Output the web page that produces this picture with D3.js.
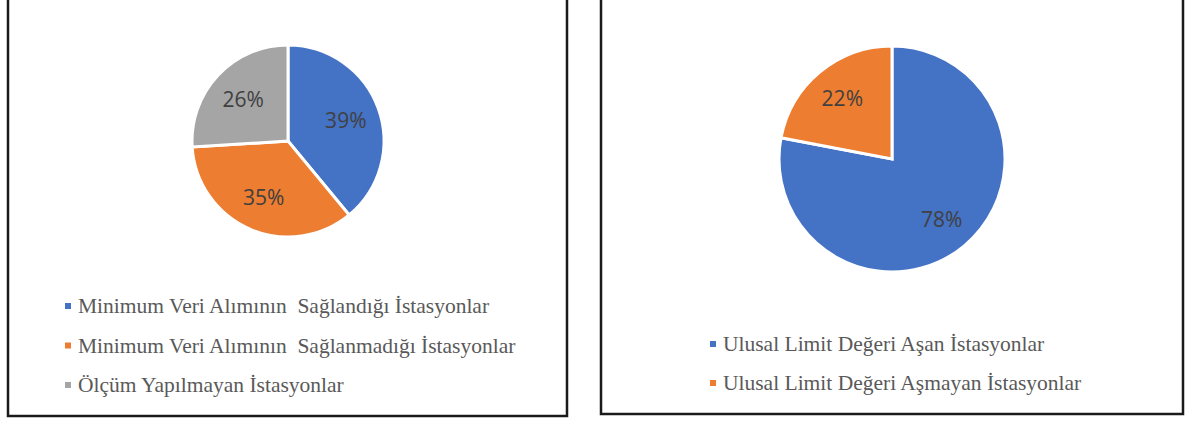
<!DOCTYPE html>
<meta charset="utf-8">
<style>
body{
  margin: 0;
  background: white;
}
.label{
  font-family: "Open Sans", sans-serif;
  font-size: 21px;
  fill: #404040;
}
.legend text{
  font-family: "Liberation Serif", "Times New Roman", serif;
  font-size: 21.5px;
  fill: #595959;
  white-space: pre;
}
.frame{
  fill: none;
  stroke: #1a1a1a;
  stroke-width: 2.5;
}
</style>
<body>
<script src="https://cdn.jsdelivr.net/npm/d3@7"></script>
<script>

var width = 1186,
    height = 421

// left chart: minimum data capture
var leftCategories = [
  'Minimum Veri Alımının  Sağlandığı İstasyonlar',
  'Minimum Veri Alımının  Sağlanmadığı İstasyonlar',
  'Ölçüm Yapılmayan İstasyonlar'
]
var leftValues = [39, 35, 26]

// right chart: national limit value
var rightCategories = [
  'Ulusal Limit Değeri Aşan İstasyonlar',
  'Ulusal Limit Değeri Aşmayan İstasyonlar'
]
var rightValues = [78, 22]

var colors = ['#4472C4', '#ED7D31', '#A5A5A5']

var svg = d3.select('body').append('svg')
    .attr('width', width)
    .attr('height', height)

// panel frames (top edge is cropped off in the source)
svg.append('rect').attr('class', 'frame')
    .attr('x', 8).attr('y', -10).attr('width', 559).attr('height', 426)
svg.append('rect').attr('class', 'frame')
    .attr('x', 601).attr('y', -10).attr('width', 582).attr('height', 424)

function drawPie(opts){
  var pie = d3.pie().sort(null).value(function(d){ return d })
  var arcs = pie(opts.values)
  var arc = d3.arc().innerRadius(0).outerRadius(opts.r)
  var labelArc = d3.arc()
      .innerRadius(opts.r * opts.lf)
      .outerRadius(opts.r * opts.lf)

  var g = svg.append('g')
      .attr('transform', 'translate(' + opts.cx + ',' + opts.cy + ')')

  g.selectAll('path')
      .data(arcs)
    .enter().append('path')
      .attr('d', arc)
      .attr('fill', function(d, i){ return colors[i] })
      .attr('stroke', 'white')
      .attr('stroke-width', 3)
      .attr('stroke-linejoin', 'miter')

  g.selectAll('text')
      .data(arcs)
    .enter().append('text')
      .attr('class', 'label')
      .attr('transform', function(d){ return 'translate(' + labelArc.centroid(d) + ')' })
      .attr('text-anchor', 'middle')
      .attr('dy', '0.36em')
      .text(function(d){ return d.data + '%' })

  var lg = svg.append('g').attr('class', 'legend')
  var item = lg.selectAll('g')
      .data(opts.categories)
    .enter().append('g')
      .attr('transform', function(d, i){
        return 'translate(' + opts.lx + ',' + (opts.ly + i * opts.step) + ')' })

  item.append('rect')
      .attr('x', 0).attr('y', -10)
      .attr('width', 6).attr('height', 6)
      .attr('fill', function(d, i){ return colors[i] })

  item.append('text')
      .attr('x', 13)
      .text(function(d){ return d })
}

drawPie({values: leftValues, categories: leftCategories,
  cx: 288, cy: 141, r: 96, lf: 0.64, lx: 65, ly: 313, step: 39.5})

drawPie({values: rightValues, categories: rightCategories,
  cx: 892, cy: 159, r: 113, lf: 0.69, lx: 710, ly: 351, step: 39})

</script>
</body>
